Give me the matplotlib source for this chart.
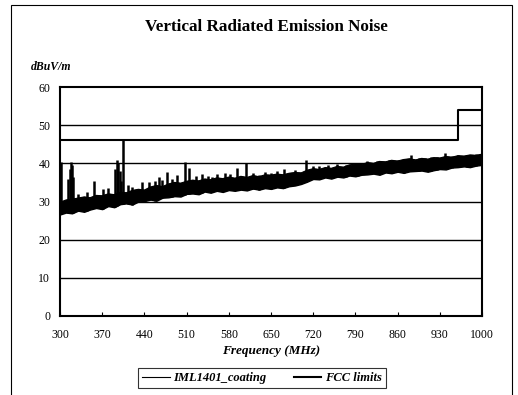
"""Vertical radiated emission noise vs FCC limits."""

import matplotlib

matplotlib.use("Agg")
import matplotlib.pyplot as plt
import numpy as np
from matplotlib.patches import Rectangle

plt.rcParams["font.family"] = ["Liberation Serif", "DejaVu Serif"]

# noise band sampled every 10 MHz (lower / upper edge of the trace, dBuV/m)
freq_mhz = list(range(300, 1001, 10))
band_low = [
    26.6, 27.1, 26.9, 27.6, 27.3, 27.9, 28.3, 28.0, 28.8, 28.5,
    29.3, 29.5, 29.2, 30.0, 30.1, 30.5, 30.2, 31.0, 31.1, 31.4,
    31.3, 32.0, 32.1, 31.9, 32.6, 32.3, 32.8, 32.5, 33.0, 32.8,
    33.1, 32.9, 33.4, 33.1, 33.5, 33.3, 33.7, 33.5, 34.0, 34.2,
    34.6, 35.2, 35.9, 35.8, 36.3, 36.0, 36.5, 36.3, 36.8, 36.6,
    37.0, 37.1, 37.3, 37.0, 37.6, 37.4, 37.8, 37.5, 37.9, 38.0,
    38.1, 37.8, 38.2, 38.5, 38.4, 38.9, 39.0, 39.2, 39.0, 39.4, 39.6,
]
band_high = [
    29.8, 30.4, 30.6, 30.9, 31.2, 31.0, 31.6, 31.5, 32.0, 31.8,
    32.4, 32.3, 32.9, 33.2, 33.0, 33.8, 34.2, 33.9, 34.6, 35.0,
    34.8, 35.3, 35.6, 35.4, 35.9, 35.7, 36.2, 36.0, 36.4, 36.1,
    36.6, 36.3, 36.8, 36.5, 37.0, 36.9, 37.2, 37.0, 37.4, 37.6,
    37.5, 38.2, 38.6, 38.4, 38.9, 38.7, 39.2, 39.0, 39.6, 39.8,
    39.7, 40.2, 40.0, 40.5, 40.4, 40.8, 40.6, 41.0, 41.2, 40.9,
    41.3, 41.1, 41.5, 41.4, 41.8, 41.6, 42.0, 41.9, 42.2, 42.1, 42.4,
]

# emission peaks and small grass sticking out of the band
spike_freq = [302, 314, 316, 318, 320, 322, 330, 345, 357, 372, 380,
              392, 394, 396, 399, 402, 405, 412, 420, 436, 448, 458,
              465, 470, 478, 485, 494, 507, 514, 525, 535, 545, 552,
              560, 573, 582, 594, 608, 620, 630, 640, 650, 660, 672,
              690, 708, 720, 730, 745, 760, 775, 795, 810, 825, 845,
              860, 870, 883, 895, 905, 915, 925, 938, 950, 960, 975, 990]
spike_peak = [40.4, 36.0, 38.5, 40.4, 39.5, 36.5, 32.0, 32.6, 35.5, 33.2, 33.5,
              38.5, 40.9, 40.0, 38.0, 35.5, 46.0, 34.2, 33.9, 35.2, 35.0, 35.5,
              36.3, 35.7, 37.8, 36.0, 37.0, 40.4, 38.7, 36.6, 37.2, 36.8, 36.4,
              37.1, 37.4, 37.2, 38.9, 40.2, 37.4, 37.0, 37.6, 37.4, 37.9, 38.4,
              38.2, 40.9, 39.3, 39.4, 39.6, 39.8, 39.6, 40.2, 40.5, 40.7, 40.9,
              41.0, 40.9, 42.2, 41.5, 41.3, 41.7, 41.6, 42.7, 42.0, 42.2, 42.3, 42.5]

# FCC limit line
fcc_freq = [300, 960, 960, 1000]
fcc_level = [46, 46, 54, 54]

x_ticks = [300, 370, 440, 510, 580, 650, 720, 790, 860, 930, 1000]
y_ticks = [0, 10, 20, 30, 40, 50, 60]

fig = plt.figure(figsize=(5.18, 3.95), dpi=100)
ax = fig.add_axes([60 / 518, 79 / 395, 422 / 518, 229 / 395])

ax.fill_between(freq_mhz, band_low, band_high, color="black", linewidth=1.0,
                edgecolor="black")
spike_base = np.interp(spike_freq, freq_mhz, band_low)
ax.vlines(spike_freq, spike_base, spike_peak, color="black", linewidth=1.8)
(trace,) = ax.plot(freq_mhz, band_high, color="black", linewidth=0.8,
                   label="IML1401_coating")
(limit,) = ax.plot(fcc_freq, fcc_level, color="black", linewidth=1.5,
                   label="FCC limits")

for level in y_ticks[1:-1]:
    ax.axhline(level, color="black", linewidth=1.0, zorder=0)

ax.set_xlim(300, 1000)
ax.set_ylim(0, 60)
ax.set_xticks(x_ticks)
ax.set_yticks(y_ticks)
ax.tick_params(axis="x", direction="in", length=3, pad=9, labelsize=8.5)
ax.tick_params(axis="y", length=0, pad=7, labelsize=8.5)
for spine in ax.spines.values():
    spine.set_linewidth(1.5)

ax.set_xlabel("Frequency (MHz)", fontsize=9.5, fontweight="bold",
              fontstyle="italic", labelpad=3)

fig.text(0.514, 1 - 27 / 395, "Vertical Radiated Emission Noise",
         ha="center", va="center", fontsize=12.3, fontweight="bold")
fig.text(31 / 518, 1 - 67 / 395, "dBuV/m", ha="left", va="center",
         fontsize=8.5, fontweight="bold", fontstyle="italic")

leg = fig.legend(handles=[trace, limit], loc="center", ncol=2,
                 bbox_to_anchor=(262 / 518, 1 - 378 / 395),
                 frameon=True, fancybox=False, edgecolor="black",
                 handlelength=2.2, columnspacing=2.2, borderpad=0.35,
                 handletextpad=0.3,
                 prop={"size": 9, "weight": "bold", "style": "italic"})
leg.get_frame().set_linewidth(0.8)

fig.patches.append(Rectangle((11 / 518, -0.01), 501 / 518, 0.01 + 390 / 395,
                             transform=fig.transFigure, fill=False,
                             edgecolor="black", linewidth=0.8))

fig.savefig("out.png", dpi=100)
